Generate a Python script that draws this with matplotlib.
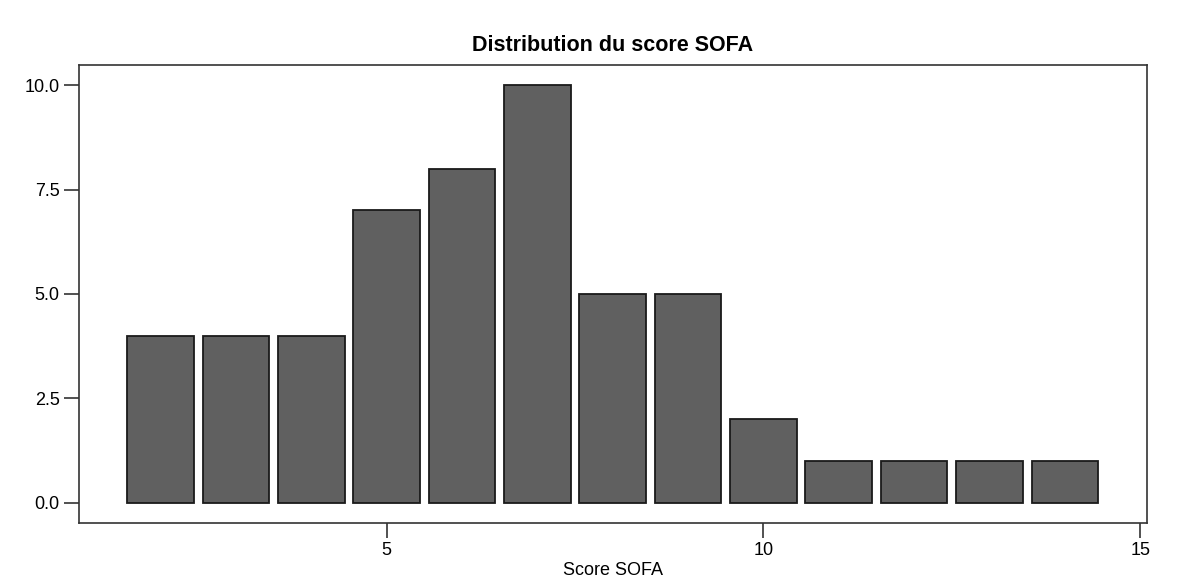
import numpy as np
from matplotlib import pyplot as plt

plt.rcParams['font.family'] = ['Liberation Sans', 'DejaVu Sans']

# SOFA score counts
scores = [2, 3, 4, 5, 6, 7, 8, 9, 10, 11, 12, 13, 14]
counts = [4, 4, 4, 7, 8, 10, 5, 5, 2, 1, 1, 1, 1]

fig = plt.figure(figsize=(11.93, 5.83), dpi=100)
ax = fig.add_axes([79/1193, 1 - 523/583, (1147-79)/1193, (523-65)/583])

ax.bar(scores, counts, width=0.885, color='#606060', edgecolor='#1a1a1a', linewidth=1.3)

ax.set_xlim(0.917, 15.09)
ax.set_ylim(-0.48, 10.48)
ax.set_xticks([5, 10, 15])
ax.set_yticks([0, 2.5, 5, 7.5, 10])
ax.set_yticklabels(['0.0', '2.5', '5.0', '7.5', '10.0'])

for s in ax.spines.values():
    s.set_color('#333333')
    s.set_linewidth(1.2)
ax.tick_params(direction='out', length=10.5, width=1.2, color='#333333', labelsize=13)

ax.set_title('Distribution du score SOFA', fontsize=15.5, fontweight='bold', pad=10)
ax.set_xlabel('Score SOFA', fontsize=13, labelpad=2)

fig.savefig('out.png', dpi=100)
